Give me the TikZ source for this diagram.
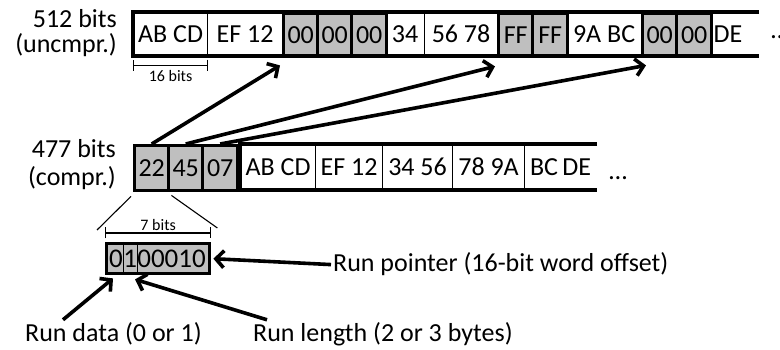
\documentclass[tikz,border=0pt]{standalone}
\usepackage{fontspec}
\setmainfont{Carlito}
\usetikzlibrary{arrows.meta,positioning}

\begin{document}
\begin{tikzpicture}[x=1pt,y=-1pt,font=\fontsize{26}{28}\selectfont,
        cell/.style={draw,line width=1.1pt,inner sep=0pt,anchor=north west,
            text height=17pt,text depth=0pt},
        zero/.style={cell,fill=black!25,line width=3.4pt},
        open/.style={cell,draw=none},
        bar/.style={line width=3.4pt},
        ptr/.style={line width=3.6pt,-{Straight Barb[length=8pt,width=17pt]}},
        dim/.style={line width=1.1pt,{Bar[width=11pt]}-{Bar[width=11pt]}},
        small/.style={font=\fontsize{16}{18}\selectfont,inner sep=0pt},
        lbl/.style={inner sep=2pt}]
    \useasboundingbox (0,0) rectangle (780,350);
    %\draw[very thin,color=gray] (0,0) grid[step=10] (780,350);

    % uncompressed words
    \foreach \n/\l/\r/\s/\t in {u1/133/207/cell/{AB CD},u2/207/282/cell/{EF 12},
            u3/282/316/zero/00,u4/316/350/zero/00,u5/350/385/zero/00,
            u6/385/424/cell/34,u7/424/497/cell/{56 78},u8/497/531/zero/FF,
            u9/531/566/zero/FF,u10/566/641/cell/{9A BC},u11/641/675/zero/00,
            u12/675/710/zero/00}
        \node[\s,minimum width=\r-\l,minimum height=43] (\n) at (\l,12) {\t};
    \node[open,minimum height=43,text width=42,inner xsep=3pt] (u13) at (710,12) {DE};
    \draw[bar] (u13.north east) -- (u1.north west) -- (u1.south west) -- (u13.south east);
    \node[anchor=base west,inner sep=0pt] (udots) at (771,39) {…};
    \node[lbl,anchor=base east] (ubits) at (119,28) {512 bits};
    \node[lbl,anchor=base east] (uname) at (119,53) {(uncmpr.)};
    \draw[dim] ([yshift=-9]u1.south west) -- ([yshift=-9]u1.south east)
        node[small,midway,below=5pt] (wbits) {16 bits};

    % compressed words
    \foreach \n/\l/\r/\s/\t in {c1/133/167/zero/22,c2/167/201/zero/45,c3/201/236/zero/07,
            m1/240/315/cell/{AB CD},m2/315/382/cell/{EF 12},m3/382/452/cell/{34 56},
            m4/452/524/cell/{78 9A},m5/524/596/open/{BC\,DE}}
        \node[\s,minimum width=\r-\l,minimum height=45] (\n) at (\l,144) {\t};
    \draw[bar] (m5.north east) -- (m1.north west) -- (m1.south west) -- (m5.south east);
    \node[anchor=base west,inner sep=0pt] (cdots) at (609,180) {…};
    \node[lbl,anchor=base east] (cbits) at (118,158) {477 bits};
    \node[lbl,anchor=base east] (cname) at (118,186) {(compr.)};

    % runs point into the uncompressed words
    \draw[ptr] (c1.north) -- ([shift={(-2,7)}]u3.south west);
    \draw[ptr] (c2.north) -- ([shift={(-2,8)}]u8.south west);
    \draw[ptr] (c3.north) -- ([shift={(5,7)}]u11.south west);

    % one run, bit by bit
    \node[zero,minimum width=103,minimum height=30] (run) at (105,242) {};
    \begin{scope}[font=\fontsize{27}{29}\selectfont,inner sep=0pt]
        \node[anchor=base west] (b0) at (109,268) {0};
        \node[anchor=base west] (b1) at (b0.base east) {1};
        \node[anchor=base west] (b2) at (b1.base east) {00010};
    \end{scope}
    \draw[line width=1.1pt] (b0.east |- run.north) -- (b0.east |- run.south)
        (b1.east |- run.north) -- (b1.east |- run.south);
    \draw[line width=1.1pt] ([shift={(-2,4)}]c1.south west) -- ([shift={(-8,-12)}]run.north west)
        ([shift={(1,3)}]c1.south east) -- ([shift={(6,-14)}]run.north east);
    \draw[dim] ([yshift=9]run.north west) -- ([yshift=9]run.north east)
        node[small,midway,above=2pt] (rbits) {7 bits};

    \node[lbl,anchor=base west] (rptr) at (331,272) {Run pointer (16-bit word offset)};
    \node[lbl,anchor=base west] (rdata) at (23,341) {Run data (0 or 1)};
    \node[lbl,anchor=base west] (rlen) at (251,341) {Run length (2 or 3 bytes)};
    \draw[ptr] (rptr.west) -- ([xshift=2]run.east);
    \draw[ptr] ([xshift=40]rdata.north west) -- ([shift={(8,3)}]run.south west);
    \draw[ptr] ([xshift=16]rlen.north west) -- ([shift={(30,4)}]run.south west);
\end{tikzpicture}
\end{document}
